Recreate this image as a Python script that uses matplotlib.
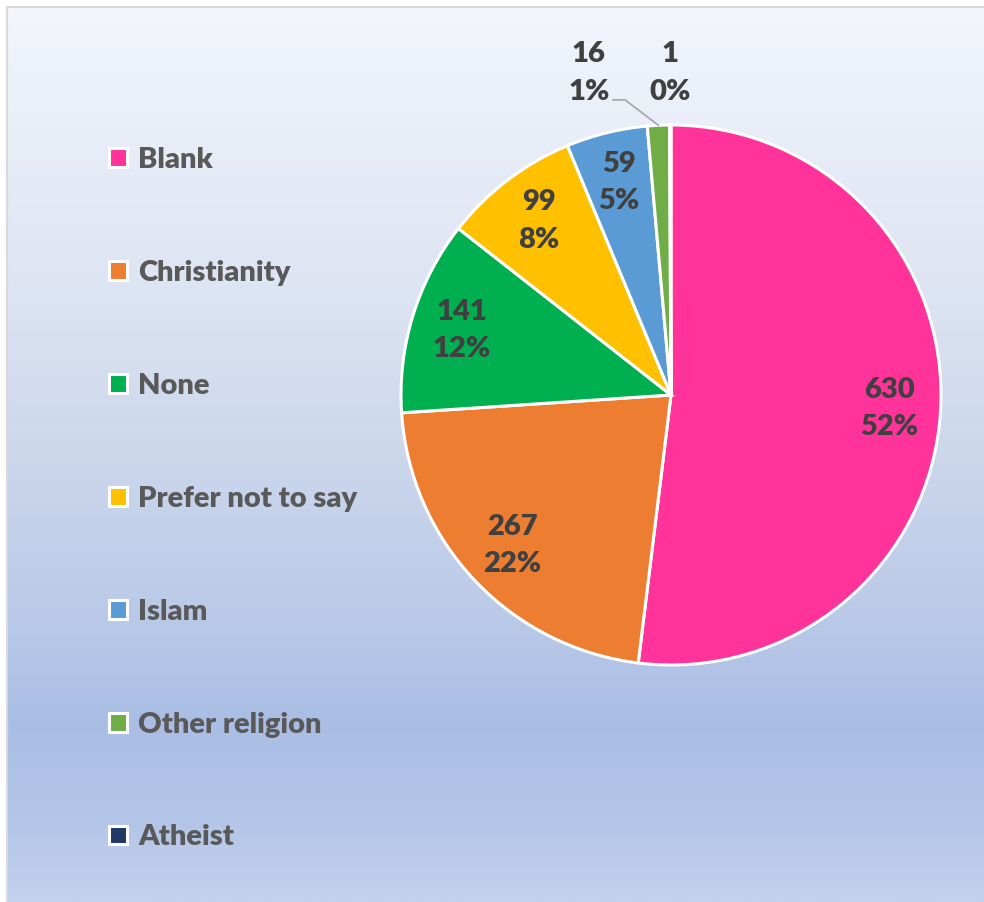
import numpy as np
import matplotlib.pyplot as plt
from matplotlib.colors import LinearSegmentedColormap
from matplotlib.lines import Line2D

plt.rcParams['font.family'] = ['Lato', 'DejaVu Sans']

categories = ["Blank", "Christianity", "None", "Prefer not to say",
              "Islam", "Other religion", "Atheist"]
counts = [630, 267, 141, 99, 59, 16, 1]
colors = ["#FF3399", "#ED7D31", "#00B050", "#FFC000",
          "#5B9BD5", "#70AD47", "#1F3864"]

W, H = 984, 902
fig = plt.figure(figsize=(W / 100, H / 100), dpi=100)
fig.patch.set_facecolor('white')

# gradient chart panel
bg = fig.add_axes([6 / W, 0, 1 - 6 / W, 1 - 7 / H])
bg.set_axis_off()
stops = [(0.0, '#f4f6fb'), (0.06, '#eef2fa'), (0.33, '#dce3f2'),
         (0.5, '#ccd7ec'), (0.66, '#bccbe8'), (0.8, '#aabee5'),
         (0.9, '#b2c4e7'), (1.0, '#c2d1ec')]
cmap = LinearSegmentedColormap.from_list('panel', stops)
grad = np.linspace(0, 1, 512).reshape(-1, 1)
bg.imshow(grad, aspect='auto', cmap=cmap, extent=[0, 1, 0, 1], origin='upper')
bg.set_xlim(0, 1)
bg.set_ylim(0, 1)

# panel border (left and top edges)
fig.add_artist(Line2D([6.5 / W, 6.5 / W], [0, 1 - 7 / H], color='#d9d9d9', lw=1.5))
fig.add_artist(Line2D([6.5 / W, 1], [1 - 7 / H, 1 - 7 / H], color='#d9d9d9', lw=1.5))

# pie
cx, cy, R = 671, 395, 270
ax = fig.add_axes([(cx - R) / W, (H - cy - R) / H, 2 * R / W, 2 * R / H])
wedges, _ = ax.pie(counts, colors=colors, startangle=90, counterclock=False,
                   radius=1, wedgeprops=dict(edgecolor='white', linewidth=2.2))
ax.set_xlim(-1, 1)
ax.set_ylim(-1, 1)
ax.set_axis_off()

total = sum(counts)
label_kw = dict(ha='center', va='center', fontsize=21, fontweight=800,
                color='#404040', linespacing=1.55)
for i, (w, v) in enumerate(zip(wedges, counts)):
    pct = round(v / total * 100)
    txt = f"{v}\n{pct}%"
    mid = np.deg2rad((w.theta1 + w.theta2) / 2)
    if categories[i] == "Other religion":
        lx, ly = -0.304, 1.193
        ax.plot([-0.215, -0.17, np.cos(mid)], [1.093, 1.093, np.sin(mid)],
                color='#a6a6a6', lw=1.2, clip_on=False)
        ax.text(lx, ly, txt, clip_on=False, **label_kw)
    elif categories[i] == "Atheist":
        ax.text(1.193 * np.cos(mid), 1.193, txt, clip_on=False, **label_kw)
    else:
        r = 0.81
        ax.text(r * np.cos(mid), r * np.sin(mid), txt, **label_kw)

leg = fig.legend(wedges, categories, loc='upper left',
                 bbox_to_anchor=(109 / W, 1 - 147 / H),
                 frameon=False, prop=dict(family='Lato', weight=800, size=21),
                 labelcolor='#595959', handlelength=0.6, handleheight=0.6,
                 handletextpad=0.4, labelspacing=2.98, borderpad=0,
                 borderaxespad=0)

fig.savefig('out.png', dpi=100)
